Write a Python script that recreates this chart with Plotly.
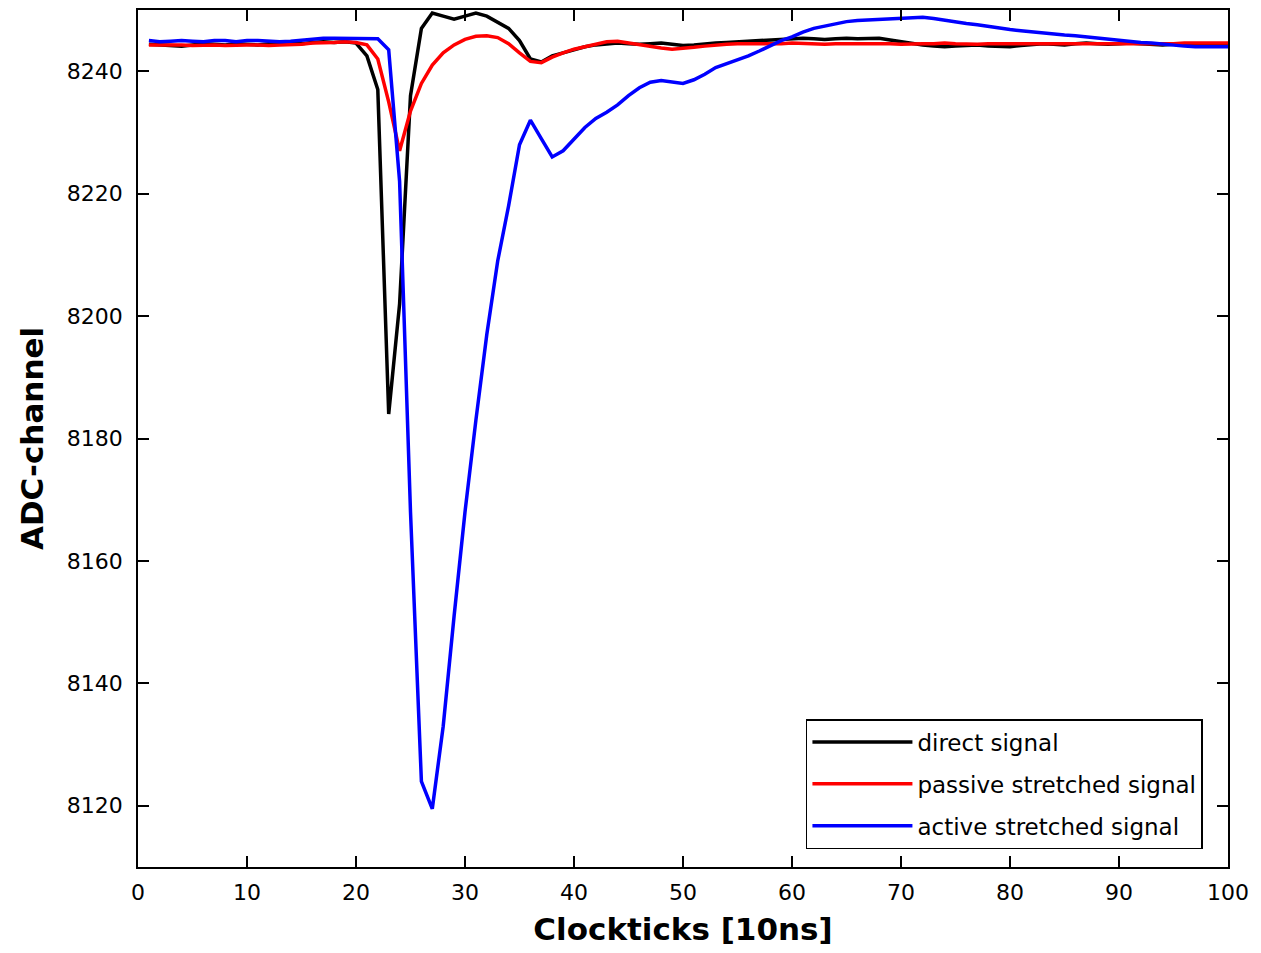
import plotly.graph_objects as go

clockticks = list(range(1, 101))

direct_signal = [
    8244.4, 8244.3, 8244.2, 8244.1, 8244.3, 8244.5, 8244.4, 8244.3, 8244.5, 8244.4,
    8244.3, 8244.5, 8244.4, 8244.6, 8244.5, 8244.7, 8244.8, 8244.7, 8244.8, 8244.6,
    8242.5, 8237.0, 8184.0, 8202.0, 8236.0, 8247.0, 8249.5, 8249.0, 8248.5, 8249.0,
    8249.5, 8249.0, 8248.0, 8247.0, 8245.0, 8242.0, 8241.5, 8242.5, 8243.0, 8243.5,
    8244.0, 8244.3, 8244.5, 8244.6, 8244.5, 8244.4, 8244.5, 8244.6, 8244.4, 8244.2,
    8244.3, 8244.5, 8244.6, 8244.7, 8244.8, 8244.9, 8245.0, 8245.2, 8245.3, 8245.3,
    8245.4, 8245.3, 8245.2, 8245.3, 8245.4, 8245.3, 8245.4, 8245.4, 8245.1, 8244.8,
    8244.6, 8244.3, 8244.1, 8244.0, 8244.1, 8244.2, 8244.3, 8244.1, 8244.0, 8244.0,
    8244.2, 8244.4, 8244.5, 8244.4, 8244.3, 8244.5, 8244.6, 8244.5, 8244.4, 8244.5,
    8244.6, 8244.5, 8244.4, 8244.3, 8244.4, 8244.5, 8244.4, 8244.3, 8244.4, 8244.5,
]

passive_signal = [
    8244.3, 8244.3, 8244.4, 8244.3, 8244.2, 8244.3, 8244.3, 8244.2, 8244.3, 8244.3,
    8244.3, 8244.2, 8244.3, 8244.3, 8244.4, 8244.6, 8244.6, 8244.7, 8244.8, 8244.7,
    8244.3, 8242.0, 8235.0, 8227.0, 8233.5, 8238.0, 8241.0, 8243.0, 8244.3, 8245.2,
    8245.7, 8245.8, 8245.5, 8244.5, 8243.0, 8241.6, 8241.4, 8242.3, 8243.0, 8243.6,
    8244.0, 8244.4, 8244.8, 8244.9, 8244.6, 8244.3, 8244.0, 8243.8, 8243.6, 8243.7,
    8243.9, 8244.1, 8244.3, 8244.4, 8244.5, 8244.5, 8244.4, 8244.5, 8244.5, 8244.6,
    8244.5, 8244.5, 8244.4, 8244.5, 8244.5, 8244.5, 8244.6, 8244.5, 8244.5, 8244.4,
    8244.5, 8244.5, 8244.5, 8244.6, 8244.5, 8244.4, 8244.4, 8244.5, 8244.5, 8244.4,
    8244.4, 8244.5, 8244.5, 8244.5, 8244.4, 8244.4, 8244.4, 8244.5, 8244.5, 8244.4,
    8244.4, 8244.5, 8244.5, 8244.5, 8244.5, 8244.6, 8244.6, 8244.6, 8244.6, 8244.6,
]

active_signal = [
    8245.0, 8244.8, 8244.9, 8245.0, 8244.9, 8244.8, 8245.0, 8245.0, 8244.8, 8245.0,
    8245.0, 8244.9, 8244.8, 8244.9, 8245.1, 8245.3, 8245.4, 8245.4, 8245.4, 8245.4,
    8245.4, 8245.3, 8243.5, 8222.0, 8168.0, 8124.0, 8119.5, 8133.0, 8151.0, 8168.0,
    8183.0, 8197.0, 8209.0, 8218.0, 8228.0, 8232.0, 8229.0, 8226.0, 8227.0, 8229.0,
    8230.8, 8232.3, 8233.3, 8234.5, 8236.0, 8237.3, 8238.2, 8238.5, 8238.3, 8238.0,
    8238.6, 8239.5, 8240.6, 8241.2, 8241.8, 8242.5, 8243.3, 8244.2, 8245.0, 8245.6,
    8246.4, 8247.0, 8247.4, 8247.8, 8248.1, 8248.3, 8248.4, 8248.5, 8248.6, 8248.6,
    8248.8, 8248.8, 8248.6, 8248.3, 8248.0, 8247.8, 8247.6, 8247.3, 8247.0, 8246.8,
    8246.6, 8246.4, 8246.2, 8246.0, 8245.9, 8245.8, 8245.6, 8245.4, 8245.2, 8245.0,
    8244.9, 8244.7, 8244.6, 8244.4, 8244.2, 8244.1, 8244.0, 8244.0, 8244.0, 8244.0,
]

series_names = ["direct signal", "passive stretched signal", "active stretched signal"]
series_colors = ["#000000", "#ff0000", "#0000ff"]

x_ticks = list(range(0, 101, 10))
y_ticks = list(range(8120, 8241, 20))

fig = go.Figure()
for i, (name, vals, col) in enumerate(zip(series_names,
                                           [direct_signal, passive_signal, active_signal],
                                           series_colors)):
    fig.add_trace(go.Scatter(
        x=clockticks, y=vals, mode="lines", name=name,
        line=dict(color=col, width=3.5), legendgroup=f"g{i}",
    ))

axis_common = dict(
    showline=True, linecolor="black", linewidth=1.5, mirror="ticks",
    ticks="inside", ticklen=11, tickwidth=1.5, tickcolor="black",
    showgrid=False, zeroline=False,
    tickfont=dict(family="DejaVu Sans", size=22, color="black"),
)

fig.update_layout(
    width=1261, height=953,
    margin=dict(l=130, r=41, t=0, b=94),
    paper_bgcolor="white", plot_bgcolor="white",
    xaxis=dict(range=[0, 100], tickvals=x_ticks, ticklabelstandoff=5,
               title=dict(text="<b>Clockticks [10ns]</b>", standoff=14,
                          font=dict(family="DejaVu Sans", size=31, color="black")),
               **axis_common),
    yaxis=dict(range=[8110, 8250], tickvals=y_ticks, ticklabelstandoff=9,
               title=dict(text="<b>ADC-channel</b>", standoff=14,
                          font=dict(family="DejaVu Sans", size=31, color="black")),
               **axis_common),
    legend=dict(
        x=0.977, y=0.021, xanchor="right", yanchor="bottom",
        bgcolor="white", bordercolor="black", borderwidth=1.5,
        font=dict(family="DejaVu Sans", size=23, color="black"),
        itemwidth=100, tracegroupgap=9, traceorder="grouped",
    ),
    showlegend=True,
)

fig.write_html("out.html")
